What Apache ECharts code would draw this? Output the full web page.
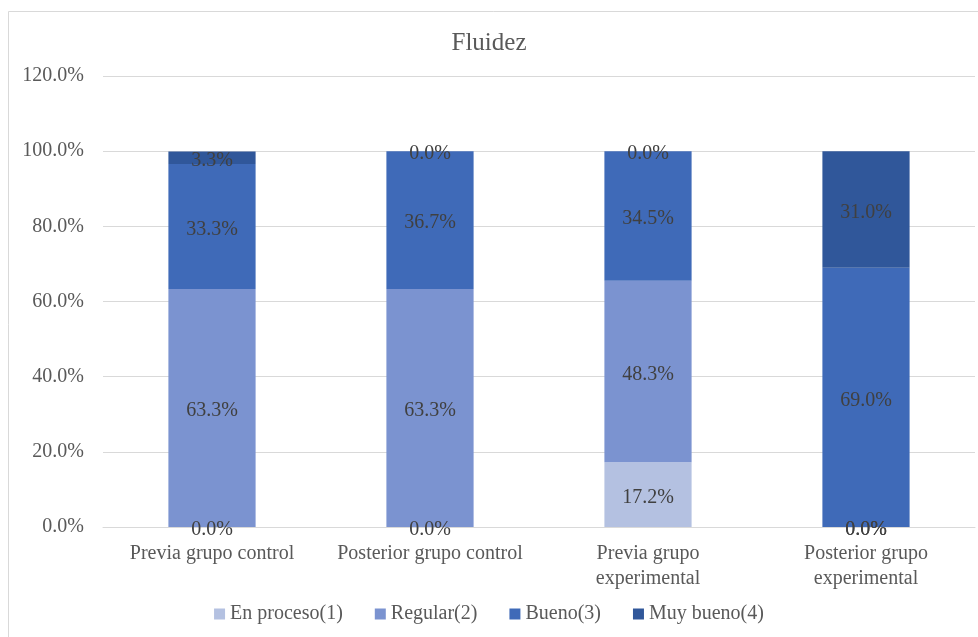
<!DOCTYPE html>
<html>
<head>
<meta charset="utf-8">
<script src="https://cdn.jsdelivr.net/npm/echarts@6/dist/echarts.min.js"></script>
<style>html,body{margin:0;padding:0;background:#fff;}#c{width:978px;height:637px;}</style>
</head>
<body>
<div id="c"></div>
<script>
const categories = ['Previa grupo control', 'Posterior grupo control', 'Previa grupo\nexperimental', 'Posterior grupo\nexperimental'];
const seriesNames = ['En proceso(1)', 'Regular(2)', 'Bueno(3)', 'Muy bueno(4)'];
const enProceso = [0, 0, 17.2, 0];
const regular = [63.3, 63.3, 48.3, 0];
const bueno = [33.3, 36.7, 34.5, 69.0];
const muyBueno = [3.3, 0, 0, 31.0];
const yTicks = [0, 20, 40, 60, 80, 100, 120];

const colors = ['#b4c1e1', '#7b93d0', '#3f6ab8', '#30579a'];
const font = '"Liberation Serif", "DejaVu Serif", serif';
const values = [enProceso, regular, bueno, muyBueno];

const chart = echarts.init(document.getElementById('c'));
chart.setOption({
  animation: false,
  backgroundColor: '#fff',
  title: {
    text: 'Fluidez', left: 'center', top: 26,
    textStyle: { fontFamily: font, fontSize: 25, fontWeight: 'normal', color: '#595959' }
  },
  graphic: [{
    type: 'rect', shape: { x: 8.5, y: 11.5, width: 975, height: 640 },
    style: { fill: 'none', stroke: '#d9d9d9', lineWidth: 1 }, silent: true
  }],
  legend: {
    bottom: 8, left: 'center', itemWidth: 11, itemHeight: 11, itemGap: 32, itemTextGap: 4,
    icon: 'rect',
    textStyle: { fontFamily: font, fontSize: 20, color: '#595959' },
    data: seriesNames
  },
  grid: { left: 103, right: 3, top: 76, bottom: 110, containLabel: false },
  xAxis: {
    type: 'category', data: categories,
    axisLine: { lineStyle: { color: '#d9d9d9' } },
    axisTick: { show: false },
    axisLabel: { fontFamily: font, fontSize: 20, color: '#595959', margin: 14, lineHeight: 25, interval: 0 }
  },
  yAxis: {
    type: 'value', min: yTicks[0], max: yTicks[yTicks.length - 1], interval: 20,
    axisLine: { show: false }, axisTick: { show: false },
    splitLine: { lineStyle: { color: '#d9d9d9' } },
    axisLabel: { fontFamily: font, fontSize: 20, color: '#595959', margin: 19, padding: [5, 0, 0, 0],
      formatter: v => v.toFixed(1) + '%' }
  },
  series: seriesNames.map((name, i) => ({
    name, type: 'bar', stack: 'total', barWidth: '40%',
    data: values[i],
    itemStyle: { color: colors[i] },
    label: {
      show: true, position: 'inside', offset: [0, 3],
      fontFamily: font, fontSize: 20, color: '#404040',
      formatter: p => p.value.toFixed(1) + '%'
    }
  }))
});
</script>
</body>
</html>
